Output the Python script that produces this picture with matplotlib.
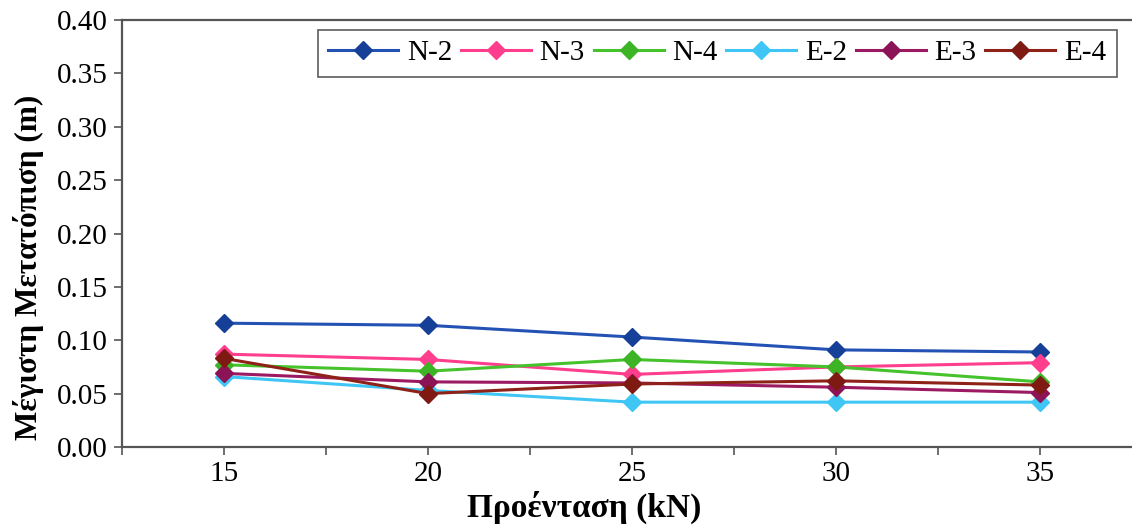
import matplotlib
matplotlib.use("Agg")
import matplotlib.pyplot as plt
from matplotlib.ticker import MultipleLocator, FormatStrFormatter

plt.rcParams['font.family'] = ['Liberation Serif', 'DejaVu Serif']

prestress = [15, 20, 25, 30, 35]
series_names = ["N-2", "N-3", "N-4", "E-2", "E-3", "E-4"]
n2 = [0.116, 0.114, 0.103, 0.091, 0.089]
n3 = [0.087, 0.082, 0.068, 0.075, 0.079]
n4 = [0.077, 0.071, 0.082, 0.075, 0.061]
e2 = [0.066, 0.053, 0.042, 0.042, 0.042]
e3 = [0.069, 0.061, 0.060, 0.056, 0.051]
e4 = [0.083, 0.050, 0.059, 0.062, 0.058]

line_colors = ["#2452b4", "#ff3f8e", "#46c22c", "#3fc6f4", "#9c1a62", "#8e2118"]
marker_colors = ["#163f98", "#ff3f8e", "#3cb426", "#3fc6f4", "#8c1456", "#7e1a12"]

fig = plt.figure(figsize=(11.32, 5.26), dpi=100)
ax = fig.add_axes([122 / 1132, 79 / 526, 1020 / 1132, 427 / 526])

for name, vals, lc, mc in zip(series_names, [n2, n3, n4, e2, e3, e4], line_colors, marker_colors):
    ax.plot(prestress, vals, color=lc, lw=2.2, marker='D', ms=9,
            markerfacecolor=mc, markeredgecolor=mc, label=name)

ax.set_xlim(12.5, 37.5)
ax.set_ylim(0, 0.40)
ax.xaxis.set_major_locator(MultipleLocator(5))
ax.xaxis.set_minor_locator(MultipleLocator(2.5))
ax.yaxis.set_major_locator(MultipleLocator(0.05))
ax.yaxis.set_major_formatter(FormatStrFormatter('%.2f'))

for side in ['left', 'bottom', 'top', 'right']:
    ax.spines[side].set_color('#555555')
    ax.spines[side].set_linewidth(1.6)

ax.tick_params(axis='both', direction='out', length=6, width=1.2, color='#555555',
               labelsize=21, pad=4)
ax.tick_params(axis='x', which='minor', direction='out', length=6, width=1.2, color='#555555')

ax.set_xlabel("Προένταση (kN)", fontsize=24, fontweight='bold')
ax.set_ylabel("Μέγιστη Μετατόπιση (m)", fontsize=22.5, fontweight='bold')
ax.xaxis.set_label_coords((584 - 122) / 1020, (447 - 491) / 427)
ax.yaxis.set_label_coords((44 - 122) / 1020, (447 - 267) / 427)

leg = ax.legend(loc='upper left', bbox_to_anchor=(0.192, 0.977), ncol=6, frameon=True,
                fancybox=False, edgecolor='#333333', fontsize=21, handlelength=2.4,
                columnspacing=0.3, handletextpad=0.3, borderpad=0.35, borderaxespad=0)
leg.get_frame().set_linewidth(1.2)

fig.savefig("out.png", dpi=100)
